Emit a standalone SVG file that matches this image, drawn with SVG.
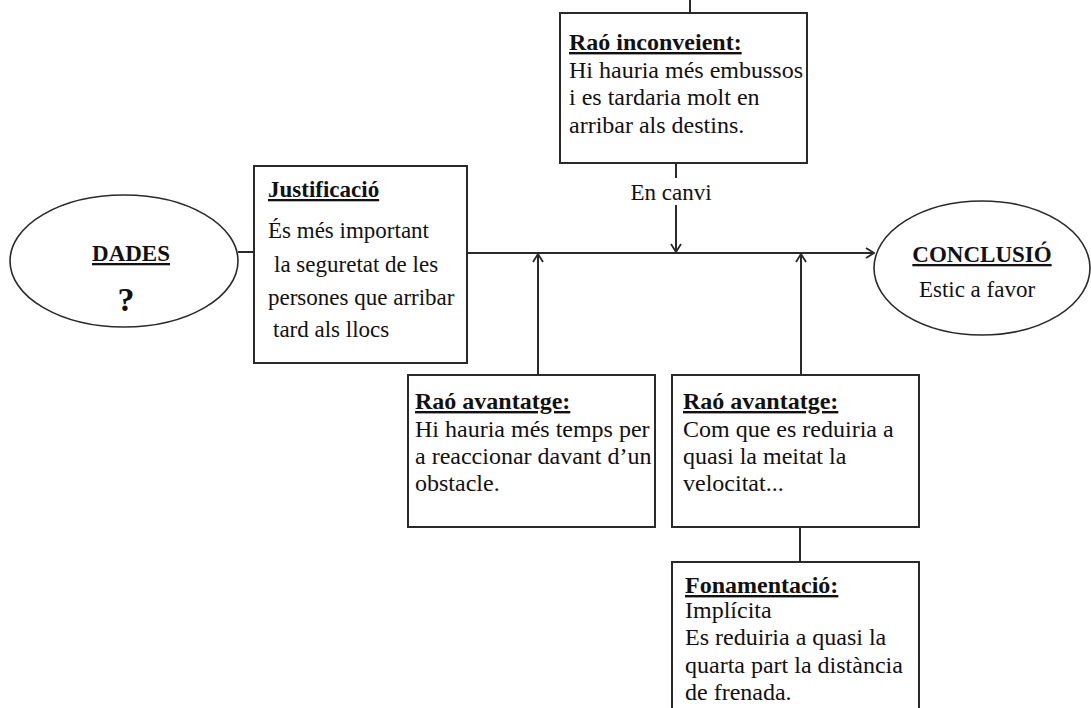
<svg xmlns="http://www.w3.org/2000/svg" width="1091" height="708" viewBox="0 0 1091 708">
  <style>
    .box { fill: #ffffff; stroke: #2a2a2a; stroke-width: 2; }
    .oval { fill: #ffffff; stroke: #2a2a2a; stroke-width: 1.6; }
    .txt { font-family: "Liberation Serif", "Times New Roman", serif; font-size: 24px; fill: #111111; }
    .sm { font-size: 23px; }
    .big { font-size: 34px; font-weight: bold; }
    .hd { font-weight: bold; text-decoration: underline; }
    .ln { fill: none; stroke: #2a2a2a; stroke-width: 2; }
  </style>
  <defs>
    <marker id="chev" viewBox="0 0 10 12" refX="9" refY="6" markerWidth="10" markerHeight="12" markerUnits="userSpaceOnUse" orient="auto">
      <path d="M1,1 L9,6 L1,11" fill="none" stroke="#2a2a2a" stroke-width="1.8"/>
    </marker>
  </defs>

  <rect width="1091" height="708" fill="#ffffff"/>

  <!-- connectors -->
  <g id="connectors">
    <line class="ln" x1="238" y1="252" x2="254" y2="252"/>
    <line class="ln" x1="467" y1="253" x2="874" y2="253" marker-end="url(#chev)"/>
    <line class="ln" x1="538" y1="375" x2="538" y2="254" marker-end="url(#chev)"/>
    <line class="ln" x1="801" y1="375" x2="801" y2="254" marker-end="url(#chev)"/>
    <line class="ln" x1="676" y1="163" x2="676" y2="178"/>
    <line class="ln" x1="676" y1="205" x2="676" y2="252" marker-end="url(#chev)"/>
    <line class="ln" x1="690" y1="0" x2="690" y2="13"/>
    <line class="ln" x1="800" y1="527" x2="800" y2="562"/>
    <text class="txt sm" x="671" y="200" text-anchor="middle">En canvi</text>
  </g>

  <!-- data -->
  <g id="dades">
    <ellipse class="oval" cx="124" cy="261" rx="114" ry="66"/>
    <text class="txt sm hd" x="131" y="261" text-anchor="middle">DADES</text>
    <text class="txt big" x="126" y="311" text-anchor="middle">?</text>
  </g>

  <!-- warrant -->
  <g id="justificacio">
    <rect class="box" x="254" y="166" width="213" height="197"/>
    <text class="txt sm hd" x="268" y="197">Justificació</text>
    <text class="txt sm" x="268" y="238">És més important</text>
    <text class="txt sm" x="274" y="272">la seguretat de les</text>
    <text class="txt sm" x="268" y="305">persones que arribar</text>
    <text class="txt sm" x="273" y="337">tard als llocs</text>
  </g>

  <!-- objection -->
  <g id="inconvenient">
    <rect class="box" x="560" y="13" width="247" height="150"/>
    <text class="txt hd" x="569" y="50">Raó inconveient:</text>
    <text class="txt" x="569" y="78">Hi hauria més embussos</text>
    <text class="txt" x="569" y="105">i es tardaria molt en</text>
    <text class="txt" x="569" y="133">arribar als destins.</text>
  </g>

  <!-- conclusion -->
  <g id="conclusio">
    <ellipse class="oval" cx="982" cy="268" rx="108" ry="67"/>
    <text class="txt sm hd" x="982" y="262" text-anchor="middle">CONCLUSIÓ</text>
    <text class="txt sm" x="977" y="297" text-anchor="middle">Estic a favor</text>
  </g>

  <!-- first advantage -->
  <g id="avantatge1">
    <rect class="box" x="408" y="375" width="247" height="152"/>
    <text class="txt hd" x="415" y="409">Raó avantatge:</text>
    <text class="txt" x="415" y="437">Hi hauria més temps per</text>
    <text class="txt" x="415" y="464">a reaccionar davant d’un</text>
    <text class="txt" x="415" y="491">obstacle.</text>
  </g>

  <!-- second advantage -->
  <g id="avantatge2">
    <rect class="box" x="672" y="375" width="247" height="152"/>
    <text class="txt hd" x="683" y="409">Raó avantatge:</text>
    <text class="txt" x="683" y="437">Com que es reduiria a</text>
    <text class="txt" x="683" y="464">quasi la meitat la</text>
    <text class="txt" x="683" y="491">velocitat...</text>
  </g>

  <!-- backing -->
  <g id="fonamentacio">
    <rect class="box" x="672" y="562" width="247" height="160"/>
    <text class="txt hd" x="685" y="593">Fonamentació:</text>
    <text class="txt" x="685" y="618">Implícita</text>
    <text class="txt" x="685" y="645">Es reduiria a quasi la</text>
    <text class="txt" x="685" y="673">quarta part la distància</text>
    <text class="txt" x="685" y="700">de frenada.</text>
  </g>
</svg>
